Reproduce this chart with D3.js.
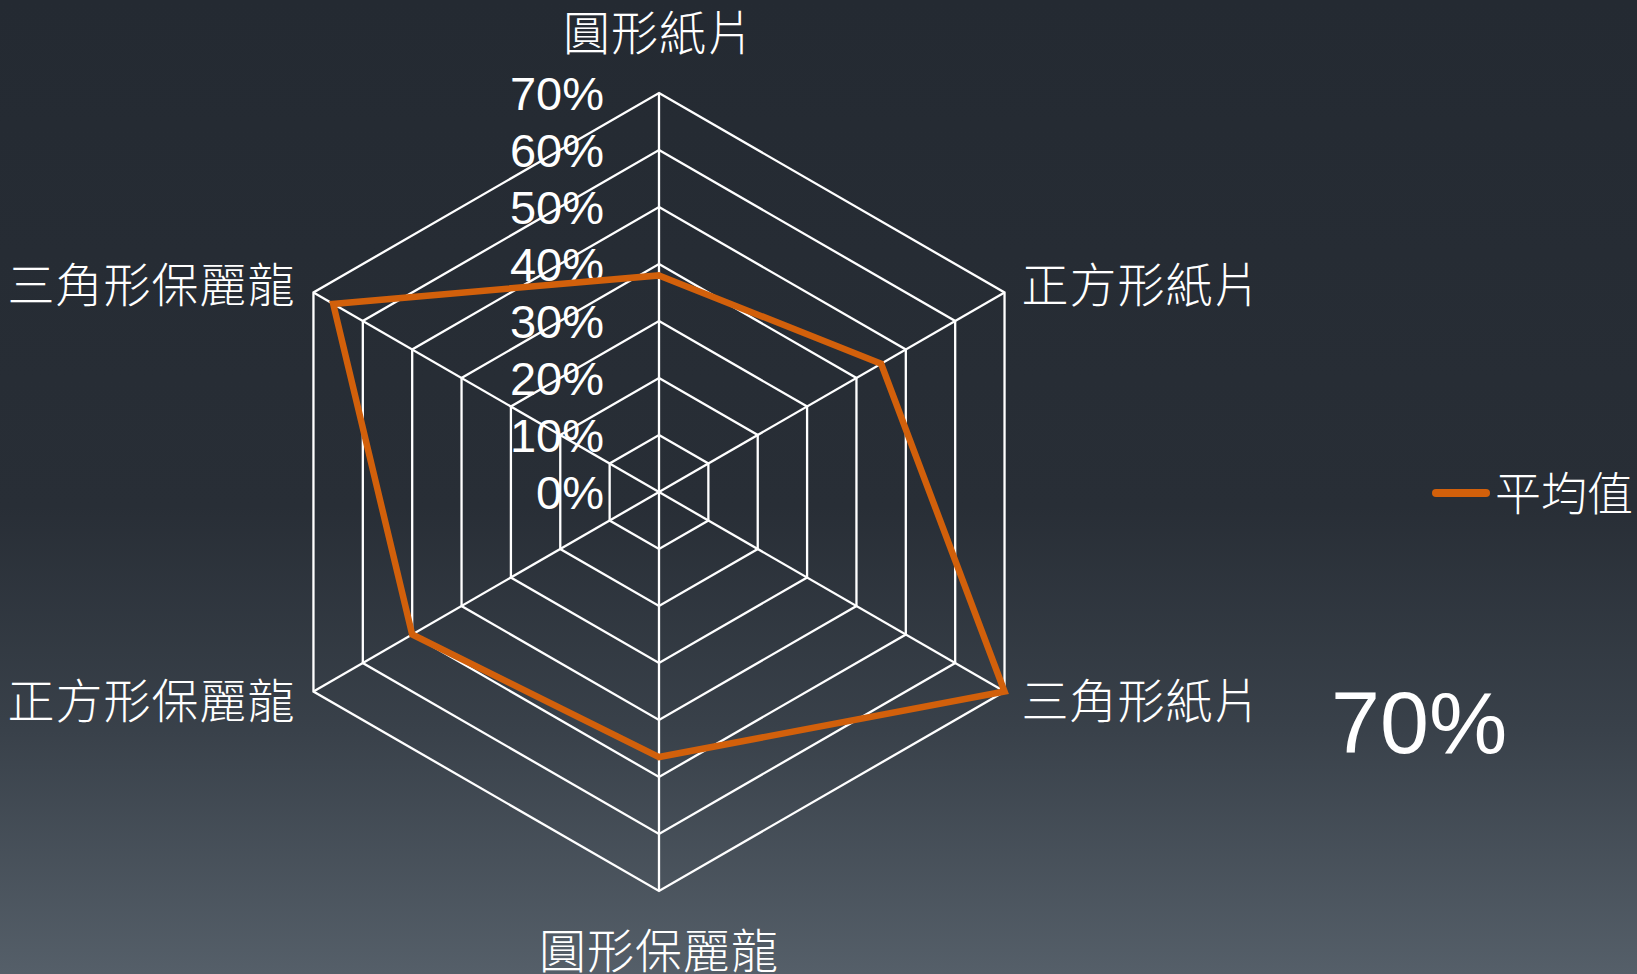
<!DOCTYPE html>
<html>
<head>
<meta charset="utf-8">
<script src="https://cdn.jsdelivr.net/npm/d3@7"></script>
<style>
  html, body { margin: 0; padding: 0; overflow: hidden; }
  body { width: 1637px; height: 974px; }
  text { font-family: "Liberation Sans", "Noto Sans CJK TC", sans-serif; fill: #ffffff; font-weight: 300; }
</style>
</head>
<body>
<script>
// chart data
var categories = ["圓形紙片", "正方形紙片", "三角形紙片", "圓形保麗龍", "正方形保麗龍", "三角形保麗龍"];
var seriesName = "平均值";
var values = [0.38, 0.45, 0.70, 0.465, 0.50, 0.66];
var ticks = [0, 0.1, 0.2, 0.3, 0.4, 0.5, 0.6, 0.7];
var bigLabel = "70%";

var width = 1637, height = 974;
var cx = 659, cy = 492, R = 399;
var orange = "#d2600b";

var svg = d3.select("body").append("svg")
    .attr("width", width).attr("height", height);

var defs = svg.append("defs");
var grad = defs.append("linearGradient").attr("id", "bg")
    .attr("x1", 0).attr("y1", 0).attr("x2", 0).attr("y2", 1);
grad.append("stop").attr("offset", "0%").attr("stop-color", "#242a32");
grad.append("stop").attr("offset", "52%").attr("stop-color", "#282e36");
grad.append("stop").attr("offset", "75%").attr("stop-color", "#39414a");
grad.append("stop").attr("offset", "100%").attr("stop-color", "#555f69");

svg.append("rect").attr("width", width).attr("height", height).attr("fill", "url(#bg)");

var r = d3.scaleLinear().domain([0, 0.7]).range([0, R]);
var angle = d3.scaleLinear().domain([0, categories.length]).range([0, 2 * Math.PI]);

function px(i, v) { return cx + Math.sin(angle(i)) * r(v); }
function py(i, v) { return cy - Math.cos(angle(i)) * r(v); }

var g = svg.append("g");

// tick labels
g.selectAll("text.tick").data(ticks).enter()
    .append("text")
    .attr("class", "tick")
    .attr("x", cx - 55)
    .attr("y", function(d){ return cy - r(d); })
    .attr("text-anchor", "end")
    .attr("dominant-baseline", "central")
    .style("font-size", "47px")
    .text(d3.format(".0%"));

// grid rings
var ring = d3.line();
g.selectAll("path.ring").data(ticks.slice(1)).enter()
    .append("path")
    .attr("class", "ring")
    .attr("fill", "none")
    .attr("stroke", "#ffffff")
    .attr("stroke-width", 2.3)
    .attr("d", function(t){
        return ring(categories.map(function(c, i){ return [px(i, t), py(i, t)]; })) + "Z";
    });

// spokes
g.selectAll("line.spoke").data(categories).enter()
    .append("line")
    .attr("class", "spoke")
    .attr("x1", cx).attr("y1", cy)
    .attr("x2", function(d, i){ return px(i, 0.7); })
    .attr("y2", function(d, i){ return py(i, 0.7); })
    .attr("stroke", "#ffffff")
    .attr("stroke-width", 2.3);

// category labels
g.selectAll("text.cat").data(categories).enter()
    .append("text")
    .attr("class", "cat")
    .attr("x", function(d, i){
        var s = Math.sin(angle(i));
        if (Math.abs(s) < 0.01) return cx;
        return px(i, 0.7) + (s > 0 ? 17 : -18);
    })
    .attr("y", function(d, i){
        var c = Math.cos(angle(i));
        if (Math.abs(c) > 0.99) return cy - c * (R + 60);
        return py(i, 0.7) + (c > 0 ? -7 : 10);
    })
    .attr("text-anchor", function(d, i){
        var s = Math.sin(angle(i));
        return Math.abs(s) < 0.01 ? "middle" : (s > 0 ? "start" : "end");
    })
    .attr("dominant-baseline", "central")
    .style("font-size", "47px")
    .style("letter-spacing", "1px")
    .text(function(d){ return d; });

// series
var radar = d3.lineRadial()
    .angle(function(d, i){ return angle(i); })
    .radius(function(d){ return r(d); })
    .curve(d3.curveLinearClosed);

g.append("path")
    .attr("transform", "translate(" + cx + "," + cy + ")")
    .attr("d", radar(values))
    .attr("fill", "none")
    .attr("stroke", orange)
    .attr("stroke-width", 6.5)
    .attr("stroke-linejoin", "miter");

// legend
var legend = svg.append("g").attr("transform", "translate(1432,493)");
legend.append("line")
    .attr("x1", 4).attr("x2", 54).attr("y1", 0).attr("y2", 0)
    .attr("stroke", orange).attr("stroke-width", 8).attr("stroke-linecap", "round");
legend.append("text")
    .attr("x", 63).attr("y", 1)
    .attr("dominant-baseline", "central")
    .style("font-size", "46px")
    .text(seriesName);

svg.append("text")
    .attr("x", 1331).attr("y", 753)
    .style("font-size", "88px")
    .text(bigLabel);
</script>
</body>
</html>
